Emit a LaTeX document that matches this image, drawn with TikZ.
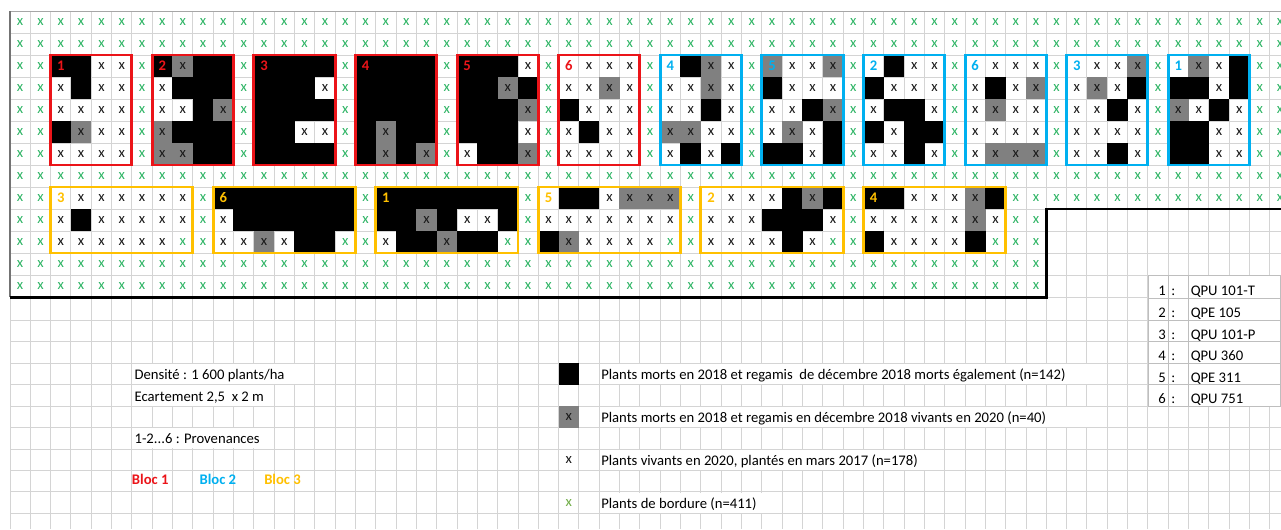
\documentclass[tikz,border=0pt]{standalone}
\usepackage{fontspec}
\setmainfont{Carlito}
\usepackage{graphicx}
\definecolor{bgreen}{RGB}{45,180,100}
\definecolor{lgreen}{RGB}{112,173,71}
\definecolor{bred}{RGB}{235,20,25}
\definecolor{bblue}{RGB}{0,176,240}
\definecolor{byellow}{RGB}{255,192,0}
\definecolor{gridc}{RGB}{212,212,212}
\definecolor{tabc}{RGB}{190,190,190}
\definecolor{cellgray}{RGB}{128,128,128}
\definecolor{xcol}{RGB}{25,25,25}

\def\txtB{}\def\txtG{x}\def\txtH{}\def\txtX{x}\def\txtg{x}\def\txtE{}

\tikzset{
  cellbase/.style={inner sep=0pt, outer sep=0pt, minimum width=15.45pt, minimum height=16.7pt, font=\fontsize{11}{13}\selectfont, text=xcol},
  cellB/.style={cellbase, fill=black},
  cellG/.style={cellbase, fill=cellgray},
  cellH/.style={cellbase, fill=cellgray},
  cellX/.style={cellbase},
  cellg/.style={cellbase, text=bgreen},
  cellE/.style={cellbase},
  lbl/.style={inner sep=0pt, font=\fontsize{11}{13}\selectfont\bfseries},
  boxline/.style={line width=2.2pt},
  gridline/.style={gridc, line width=0.75pt},
  txt/.style={inner sep=0pt, anchor=base west, font=\fontsize{11}{13}\selectfont},
  btxt/.style={txt, font=\fontsize{11}{13}\selectfont\bfseries},
}

\newcommand\blk[3]{%
  \foreach \rowlist [count=\ri from 0] in {#3} {%
    \foreach \cc [count=\ci from 0] in \rowlist {%
      \pgfmathtruncatemacro\cx{#1+\ci}%
      \pgfmathtruncatemacro\ry{#2+\ri}%
      \node[cell\cc] (k-\cx-\ry) at ({10+20.32*(\cx+0.5)},{11+22*(\ry+0.5)}) {\csname txt\cc\endcsname};
    }%
  }%
}
\newcommand\bbox[5]{%
  \draw[boxline, #5] ({10+20.32*#1},{11+22*#2}) rectangle ({10+20.32*(#1+#3)},{11+22*(#2+#4)});
}
\newcommand\blbl[4]{%
  \node[lbl, text=#3] (lab-#1-#2) at ({10+20.32*(#1+0.5)},{11+22*(#2+0.5)}) {#4};
}
\newcommand\gx[2]{\node[cellg] (g-#1-#2) at ({10+20.32*(#1+0.5)},{11+22*(#2+0.5)}) {x};}

\begin{document}
\begin{tikzpicture}[x=0.75pt,y=-0.75pt]
\useasboundingbox (0,0) rectangle (1281,529);
\fill[white] (0,0) rectangle (1281,529);
\clip (0,0) rectangle (1281,529);

% grid
\foreach \i in {0,...,62} \draw[gridline] ({10+20.32*\i},11) -- ({10+20.32*\i},529);
\foreach \j in {0,...,13} \draw[gridline] (10,{11+22*\j}) -- (1281,{11+22*\j});
\foreach \j in {0,...,9} \draw[gridline] (10,{320.5+21.42*\j}) -- (1281,{320.5+21.42*\j});

% border x
\foreach \r in {0,1,7} {\foreach \c in {0,...,62} {\gx{\c}{\r}}}
\foreach \c in {0,1,9,17,25,33,41,49,50,...,62} {\gx{\c}{8}}
\foreach \r in {2,...,6} {\foreach \c in {0,1,6,11,...,61,62} {\gx{\c}{\r}}}
\foreach \r in {9,10} {\foreach \c in {0,1,9,17,...,49,50} {\gx{\c}{\r}}}
\foreach \r in {11,12} {\foreach \c in {0,...,50} {\gx{\c}{\r}}}

% top blocks
\blk{2}{2}{{B,B,X,X},{X,B,X,X},{X,X,X,X},{B,G,X,X},{X,X,X,X}}
\blk{7}{2}{{B,G,B,B},{X,B,B,B},{X,X,B,G},{G,B,B,B},{G,G,B,B}}
\blk{12}{2}{{B,B,B,B},{B,B,B,X},{B,B,B,B},{B,B,X,X},{B,B,B,B}}
\blk{17}{2}{{B,B,B,B},{B,B,B,B},{B,B,B,B},{B,G,B,B},{B,G,B,G}}
\blk{22}{2}{{B,B,B,X},{B,B,G,B},{B,B,B,G},{B,B,B,X},{X,B,B,G}}
\blk{27}{2}{{E,X,X,X},{X,X,G,X},{B,X,X,X},{X,B,X,X},{X,X,X,X}}
\blk{32}{2}{{E,B,G,X},{X,X,G,X},{X,X,B,X},{G,G,X,X},{X,B,X,B}}
\blk{37}{2}{{H,X,X,G},{B,X,X,X},{X,X,B,G},{X,G,X,B},{B,B,X,B}}
\blk{42}{2}{{E,B,X,X},{B,X,X,X},{X,B,B,X},{B,X,B,B},{X,X,B,X}}
\blk{47}{2}{{E,X,X,X},{X,B,X,G},{X,G,X,X},{X,X,X,X},{X,G,G,G}}
\blk{52}{2}{{E,X,X,G},{X,G,X,B},{X,X,B,X},{X,X,X,X},{X,X,B,X}}
\blk{57}{2}{{E,G,X,B},{B,B,X,B},{G,X,B,X},{B,B,X,X},{B,B,X,X}}

% bottom blocks
\blk{2}{8}{{E,X,X,X,X,X,X},{X,B,X,X,X,X,X},{X,X,X,X,X,X,g}}
\blk{10}{8}{{B,B,B,B,B,B,B},{X,B,B,B,B,B,B},{X,X,G,X,B,B,g}}
\blk{18}{8}{{B,B,B,B,B,B,B},{B,B,G,B,X,X,B},{X,B,B,G,B,B,g}}
\blk{26}{8}{{E,B,B,X,G,G,G},{X,X,X,X,X,X,X},{B,G,X,X,X,X,g}}
\blk{34}{8}{{E,X,X,X,B,G,B},{X,X,X,B,B,B,X},{X,X,X,X,B,X,g}}
\blk{42}{8}{{B,B,X,X,X,G,B},{X,X,X,X,X,G,X},{B,X,X,X,X,B,g}}

% outlines
\foreach \c in {2,7,...,27} {\bbox{\c}{2}{4}{5}{bred}}
\foreach \c in {32,37,...,57} {\bbox{\c}{2}{4}{5}{bblue}}
\foreach \c in {2,10,...,42} {\bbox{\c}{8}{7}{3}{byellow}}

% labels
\blbl{2}{2}{bred}{1}\blbl{7}{2}{bred}{2}\blbl{12}{2}{bred}{3}
\blbl{17}{2}{bred}{4}\blbl{22}{2}{bred}{5}\blbl{27}{2}{bred}{6}
\blbl{32}{2}{bblue}{4}\blbl{37}{2}{bblue}{5}\blbl{42}{2}{bblue}{2}
\blbl{47}{2}{bblue}{6}\blbl{52}{2}{bblue}{3}\blbl{57}{2}{bblue}{1}
\blbl{2}{8}{byellow}{3}\blbl{10}{8}{byellow}{6}\blbl{18}{8}{byellow}{1}
\blbl{26}{8}{byellow}{5}\blbl{34}{8}{byellow}{2}\blbl{42}{8}{byellow}{4}

% plot border
\draw[color=black!35, line width=0.75pt] (10,11) -- (1281,11);
\draw[color=black!55, line width=0.9pt] (10,11) -- (10,297);
\draw[black, line width=1.8pt] (9.5,297.5) -- (1046.3,297.5) -- (1046.3,209) -- (1281,209);

% left legend
\fill[white] (132.5,363.9) rectangle (314.2,384.2);
\fill[white] (132.5,385.4) rectangle (273.6,405.6);
\fill[white] (132.5,428.2) rectangle (273.6,448.4);
\node[txt] (dens) at (134.3,379.5) {Densité : 1 600 plants/ha};
\node[txt] (ecart) at (134.3,401.2) {Ecartement 2,5\ \ x 2 m};
\node[txt] (prov) at (134.3,443.8) {1-2...6 : Provenances};
\node[btxt, text=bred] (bloc1) at (131.7,484.5) {Bloc 1};
\node[btxt, text=bblue] (bloc2) at (199.3,484.5) {Bloc 2};
\node[btxt, text=byellow] (bloc3) at (264,484.5) {Bloc 3};

% symbol legend
\node[cellB, minimum height=16pt] (lgB) at (568.8,374) {};
\node[cellG, minimum height=16pt] (lgG) at (568.8,416.9) {x};
\node[cellX] (lgX) at (568.8,459.7) {x};
\node[cellbase, text=lgreen] (lgg) at (568.8,502.6) {x};
\fill[white] (599.9,363.9) rectangle (1086.6,384.2);
\fill[white] (599.9,406.8) rectangle (1086.6,427);
\fill[white] (599.9,449.6) rectangle (944.1,469.8);
\fill[white] (599.9,492.5) rectangle (781.6,512.7);
\node[txt] (t1) at (601,379.5) {Plants morts en 2018 et regamis\ \ de décembre 2018 morts également (n=142)};
\node[txt] (t2) at (601,422.6) {Plants morts en 2018 et regamis en décembre 2018 vivants en 2020 (n=40)};
\node[txt] (t3) at (601,465.5) {Plants vivants en 2020, plantés en mars 2017 (n=178)};
\node[txt] (t4) at (601,508.6) {Plants de bordure (n=411)};

% provenance table
\fill[white] (1148,275.5) rectangle (1281,406.2);
\foreach \yy in {275.5,298,320.5,341.9,363.3,384.8,406.2} \draw[tabc, line width=0.75pt] (1148,\yy) -- (1281,\yy);
\foreach \xx in {1148,1168.2,1188.5,1280.5} \draw[tabc, line width=0.75pt] (\xx,275.5) -- (\xx,406.2);
\foreach \n/\p/\yb in {1/QPU 101-T/295.5,2/QPE 105/317.5,3/QPU 101-P/339.2,4/QPU 360/360.6,5/QPE 311/382.1,6/QPU 751/403.5} {
  \node[txt, anchor=base east] (num-\n) at (1166,\yb) {\n};
  \node[txt] (col-\n) at (1171,\yb) {:};
  \node[txt] (prov-\n) at (1190.5,\yb) {\p};
}
\end{tikzpicture}
\end{document}
